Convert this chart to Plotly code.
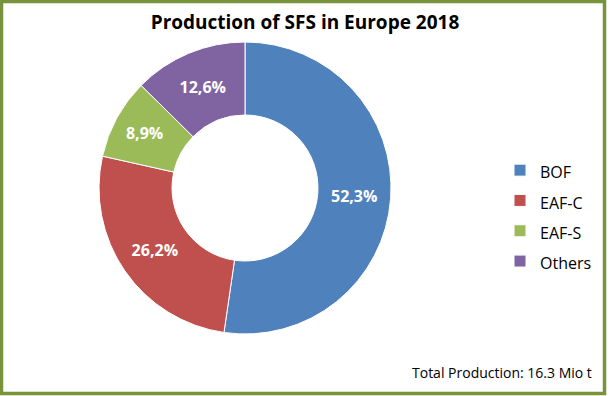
import plotly.graph_objects as go

categories = ["BOF", "EAF-C", "EAF-S", "Others"]
values = [52.3, 26.2, 8.9, 12.6]
labels_text = ["52,3%", "26,2%", "8,9%", "12,6%"]
colors = ["#4F81BD", "#C0504D", "#9BBB59", "#8064A2"]

W, H = 611, 396
cx, cy, R = 245, 188, 146

legend_labels = [f"<span style='font-size:16px'>{c}</span>" for c in categories]

fig = go.Figure(go.Pie(
    labels=legend_labels,
    values=values,
    text=labels_text,
    textinfo="text",
    textposition="inside",
    insidetextorientation="horizontal",
    textfont=dict(family="Open Sans", size=16, color="white", weight="bold"),
    hole=0.5,
    sort=False,
    direction="clockwise",
    rotation=0,
    marker=dict(colors=colors, line=dict(color="white", width=1)),
    domain=dict(x=[(cx - R) / W, (cx + R) / W], y=[(H - cy - R) / H, (H - cy + R) / H]),
    hovertemplate="%{customdata}: %{text}<extra></extra>",
    customdata=categories,
))

fig.update_layout(
    width=W, height=H,
    margin=dict(l=0, r=0, t=0, b=0),
    paper_bgcolor="white",
    plot_bgcolor="white",
    title=dict(text="<b>Production of SFS in Europe 2018</b>", x=305 / W, xanchor="center",
               y=1 - 22 / H, yanchor="middle",
               font=dict(family="Open Sans", size=19, color="black")),
    legend=dict(x=500 / W, xanchor="left", y=1 - 216 / H, yanchor="middle",
                font=dict(family="Open Sans", size=21, color="black"),
                bgcolor="rgba(0,0,0,0)", itemwidth=30, tracegroupgap=0),
    annotations=[dict(text="Total Production: 16.3 Mio t", x=594 / W, y=1 - 372 / H,
                      xref="paper", yref="paper", xanchor="right", yanchor="middle",
                      showarrow=False, font=dict(family="Open Sans", size=14, color="black"))],
    shapes=[dict(type="rect", xref="paper", yref="paper",
                 x0=1.5 / W, x1=604.5 / W, y0=1 - 393.5 / H, y1=1 - 1.5 / H,
                 line=dict(color="#77933C", width=3.5), fillcolor="rgba(0,0,0,0)")],
)

fig.write_html("out.html", config={"displayModeBar": False},
               post_script="document.body.style.margin='0';document.body.style.overflow='hidden';")
